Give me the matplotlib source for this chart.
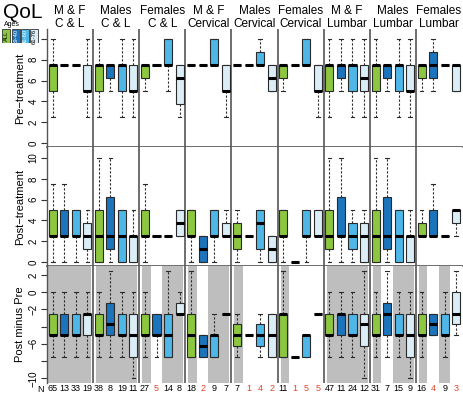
import matplotlib.pyplot as plt
import matplotlib.transforms as mtrans
from matplotlib.patches import Rectangle

plt.rcParams['font.family'] = ['Liberation Sans', 'DejaVu Sans']

W, H = 463, 397

groups = ["M & F\nC & L", "Males\nC & L", "Females\nC & L",
          "M & F\nCervical", "Males\nCervical", "Females\nCervical",
          "M & F\nLumbar", "Males\nLumbar", "Females\nLumbar"]
ages = ["ALL", "19-40", "41-60", "61-76"]
age_colors = ["#8dc63f", "#1c74bc", "#4fb6e8", "#dbedf7"]
age_text = ["black", "white", "white", "black"]

n_counts = [65, 13, 33, 19, 38, 8, 19, 11, 27, 5, 14, 8,
            18, 2, 9, 7, 7, 1, 4, 2, 11, 1, 5, 5,
            47, 11, 24, 12, 31, 7, 15, 9, 16, 4, 9, 3]

# shaded columns in the difference row
shaded = [1, 1, 1, 1, 1, 1, 1, 1, 1, 0, 1, 1,
          1, 0, 1, 1, 1, 0, 0, 0, 1, 0, 0, 0,
          1, 1, 1, 1, 1, 0, 1, 1, 1, 0, 1, 0]

# (whisker low, q1, median, q3, whisker high)
pre_stats = [
    (2.5, 5, 7.5, 7.5, 10), (7.5, 7.5, 7.5, 7.5, 7.5), (7.5, 7.5, 7.5, 7.5, 7.5), (2.5, 5, 5, 7.5, 10),
    (2.5, 5, 7.5, 7.5, 10), (5, 6.25, 7.5, 7.5, 7.5), (2.5, 5, 7.5, 7.5, 10), (2.5, 5, 5, 7.5, 10),
    (5, 6.25, 7.5, 7.5, 7.5), (7.5, 7.5, 7.5, 7.5, 7.5), (5, 7.5, 7.5, 10, 10), (2.5, 3.75, 6.25, 7.5, 7.5),
    (7.5, 7.5, 7.5, 7.5, 7.5), (7.5, 7.5, 7.5, 7.5, 7.5), (7.5, 7.5, 7.5, 10, 10), (2.5, 5, 5, 7.5, 7.5),
    (7.5, 7.5, 7.5, 7.5, 7.5), (7.5, 7.5, 7.5, 7.5, 7.5), (7.5, 7.5, 7.5, 8.75, 10), (5, 5, 6.25, 7.5, 7.5),
    (5, 6.25, 7.5, 7.5, 7.5), (7.5, 7.5, 7.5, 7.5, 7.5), (7.5, 7.5, 7.5, 10, 10), (2.5, 5, 5, 7.5, 7.5),
    (2.5, 5, 7.5, 7.5, 10), (5, 6.25, 7.5, 7.5, 10), (2.5, 5, 7.5, 7.5, 10), (2.5, 5, 6.25, 7.5, 10),
    (2.5, 5, 7.5, 7.5, 10), (5, 6.25, 7.5, 7.5, 7.5), (2.5, 5, 7.5, 7.5, 10), (2.5, 5, 5, 7.5, 10),
    (5, 6.25, 7.5, 7.5, 7.5), (5, 6.25, 7.5, 8.75, 10), (7.5, 7.5, 7.5, 7.5, 7.5), (5, 5, 7.5, 7.5, 7.5),
]

post_stats = [
    (0, 2.5, 2.5, 5, 7.5), (0, 2.5, 2.5, 5, 7.5), (0, 2.5, 2.5, 5, 5), (0, 1.25, 2.5, 3.75, 5),
    (0, 0, 2.5, 5, 10), (0, 1.25, 2.5, 6.25, 10), (0, 0, 2.5, 5, 5), (0, 0, 2.5, 2.5, 5),
    (0, 2.5, 2.5, 5, 7.5), (2.5, 2.5, 2.5, 2.5, 2.5), (2.5, 2.5, 2.5, 2.5, 2.5), (2.5, 2.5, 3.75, 5, 5),
    (0, 2.5, 2.5, 5, 5), (0, 0, 1.25, 2.5, 2.5), (0, 2.5, 2.5, 5, 5), (2.5, 2.5, 2.5, 3.75, 5),
    (0, 1.25, 2.5, 3.75, 5), (2.5, 2.5, 2.5, 2.5, 2.5), (0, 1.25, 3.75, 5, 5), (0, 0, 1.25, 2.5, 2.5),
    (0, 2.5, 2.5, 5, 5), (0, 0, 0, 0, 0), (0, 2.5, 2.5, 5, 5), (2.5, 2.5, 2.5, 5, 5),
    (0, 1.25, 2.5, 5, 10), (0, 2.5, 2.5, 6.25, 10), (0, 1.25, 2.5, 3.75, 5), (0, 0, 2.5, 3.75, 5),
    (0, 0, 2.5, 5, 10), (0, 1.25, 2.5, 6.25, 10), (0, 0, 2.5, 5, 5), (0, 0, 2.5, 2.5, 5),
    (2.5, 2.5, 2.5, 3.75, 5), (2.5, 2.5, 2.5, 5, 7.5), (2.5, 2.5, 2.5, 2.5, 2.5), (2.5, 3.75, 5, 5, 5),
]

diff_stats = [
    (-7.5, -5, -5, -2.5, 0), (-7.5, -5, -5, -2.5, 0), (-7.5, -5, -5, -2.5, 0), (-7.5, -5, -2.5, -2.5, 0),
    (-7.5, -5, -5, -2.5, 0), (-7.5, -5, -3.75, -1.25, 2.5), (-7.5, -5, -5, -2.5, 0), (-10, -7.5, -5, -2.5, 0),
    (-7.5, -5, -5, -2.5, 0), (-7.5, -5, -5, -2.5, -2.5), (-7.5, -7.5, -5, -2.5, 2.5), (-2.5, -2.5, -2.5, -1.25, 0),
    (-7.5, -7.5, -5, -2.5, 2.5), (-7.5, -7.5, -6.25, -5, -5), (-7.5, -7.5, -5, -5, -2.5), (-2.5, -2.5, -2.5, -2.5, -2.5),
    (-7.5, -6.25, -5, -3.75, -2.5), (-5, -5, -5, -5, -5), (-7.5, -6.25, -5, -3.75, -2.5), (-7.5, -7.5, -5, -2.5, -2.5),
    (-7.5, -7.5, -2.5, -2.5, 2.5), (-7.5, -7.5, -7.5, -7.5, -7.5), (-7.5, -7.5, -5, -5, -5), (-2.5, -2.5, -2.5, -2.5, -2.5),
    (-7.5, -5, -5, -2.5, 0), (-7.5, -5, -2.5, -2.5, 0), (-7.5, -5, -5, -2.5, 0), (-10, -6.25, -3.75, -2.5, 2.5),
    (-7.5, -5, -5, -2.5, 0), (-7.5, -5, -2.5, -1.25, 2.5), (-7.5, -5, -5, -2.5, 0), (-10, -7.5, -5, -2.5, 0),
    (-7.5, -5, -5, -2.5, 0), (-5, -5, -3.75, -2.5, -2.5), (-7.5, -5, -5, -2.5, 0), (-5, -3.75, -2.5, 0, 2.5),
]

fig = plt.figure(figsize=(W / 100, H / 100), dpi=100)


def px_axes(x0, y0, x1, y1):
    return fig.add_axes([x0 / W, 1 - y1 / H, (x1 - x0) / W, (y1 - y0) / H])


def draw_boxes(ax, stats):
    pos = list(range(1, len(stats) + 1))
    dicts = []
    for s in stats:
        dicts.append(dict(whislo=s[0], q1=s[1], med=s[2], q3=s[3], whishi=s[4]))
    res = ax.bxp(dicts, positions=pos, widths=0.7, capwidths=0.32, patch_artist=True,
                 showfliers=False, manage_ticks=False,
                 boxprops=dict(edgecolor='#2a2a2a', linewidth=0.8),
                 medianprops=dict(color='black', linewidth=2.2, solid_capstyle='butt'),
                 whiskerprops=dict(color='#2a2a2a', linewidth=0.8, linestyle=(0, (2, 1.6))),
                 capprops=dict(color='#2a2a2a', linewidth=0.8))
    for i, b in enumerate(res['boxes']):
        b.set_facecolor(age_colors[i % 4])
        b.set_zorder(3)
    for m in res['medians']:
        m.set_zorder(4)


panels = [
    (29, 147, (-0.38, 10.96), pre_stats, "Pre\u2212treatment"),
    (147, 266, (-0.38, 11.06), post_stats, "Post\u2212treatment"),
    (266, 383, (-10.55, 3.03), diff_stats, "Post minus Pre"),
]

axes = []
for k, (y0, y1, ylim, stats, label) in enumerate(panels):
    ax = px_axes(47, y0, 462, y1)
    ax.set_xlim(0.5, 36.5)
    ax.set_ylim(*ylim)
    for side in ['top', 'right', 'bottom']:
        ax.spines[side].set_visible(False)
    ax.spines['left'].set_color('#555555')
    ax.spines['left'].set_linewidth(1.0)
    if k < 2:
        ax.spines['bottom'].set_visible(True)
        ax.spines['bottom'].set_color('#555555')
        ax.spines['bottom'].set_linewidth(1.2)
    ax.set_xticks([])
    if k == 2:
        for i, s in enumerate(shaded):
            if s:
                ax.axvspan(i + 0.5, i + 1.5, color='#bebebe', lw=0, zorder=0)
        for g in range(1, 9):
            ax.axvline(g * 4 + 0.5, color='white', lw=3.5, zorder=1)
        ax.set_yticks([2, 0, -2, -4, -6, -8, -10])
        ax.set_yticklabels(['2', '0', '\u22122', '', '\u22126', '', '\u221210'])
    elif k == 0:
        # the "10" label sits under the age key in the original
        ax.set_yticks([0, 2, 4, 6, 8, 10])
        ax.set_yticklabels(['0', '2', '4', '6', '8', ''])
    else:
        ax.set_yticks([0, 2, 4, 6, 8, 10])
    for g in range(1, 9):
        ax.axvline(g * 4 + 0.5, color='#555555', lw=1.2, zorder=2)
    ax.tick_params(axis='y', length=4, width=0.8, color='#333333', pad=2,
                   labelsize=7, labelrotation=90)
    for t in ax.get_yticklabels():
        t.set_va('center')
    draw_boxes(ax, stats)
    fig.text(20 / W, 1 - (y0 + y1) / 2 / H, label, rotation=90,
             ha='center', va='center', fontsize=8)
    axes.append(ax)

# group headers
for g, name in enumerate(groups):
    top, bottom = name.split("\n")
    xc = (47 + (g + 0.5) * 415 / 9) / W
    fig.text(xc, 1 - 11 / H, top, ha='center', va='center', fontsize=8.5)
    fig.text(xc, 1 - 24 / H, bottom, ha='center', va='center', fontsize=8.5)

# counts row
bot = axes[2]
trans = mtrans.blended_transform_factory(bot.transData, bot.transAxes)
for i, n in enumerate(n_counts):
    col = '#e0452a' if n <= 5 else 'black'
    bot.text(i + 1, -0.048, str(n), transform=trans, ha='center', va='center',
             fontsize=6.5, color=col, clip_on=False)
fig.text(40.5 / W, 1 - 389 / H, "N", ha='center', va='center', fontsize=6.5)

# title and age key
fig.text(3 / W, 1 - 12 / H, "QoL", ha='left', va='center', fontsize=15)
fig.text(4 / W, 1 - 25 / H, "Ages", ha='left', va='center', fontsize=5)
key = fig.add_axes([2 / W, 1 - 43 / H, 37 / W, 14 / H])
key.set_xlim(0, 4)
key.set_ylim(0, 1)
key.axis('off')
for i, a in enumerate(ages):
    key.add_patch(Rectangle((i + 0.05, 0), 0.85, 1, facecolor=age_colors[i],
                            edgecolor='#333333', lw=0.6))
    key.text(i + 0.475, 0.5, a, rotation=90, ha='center', va='center',
             fontsize=4.2, color=age_text[i])

fig.savefig("out.png", dpi=100)
